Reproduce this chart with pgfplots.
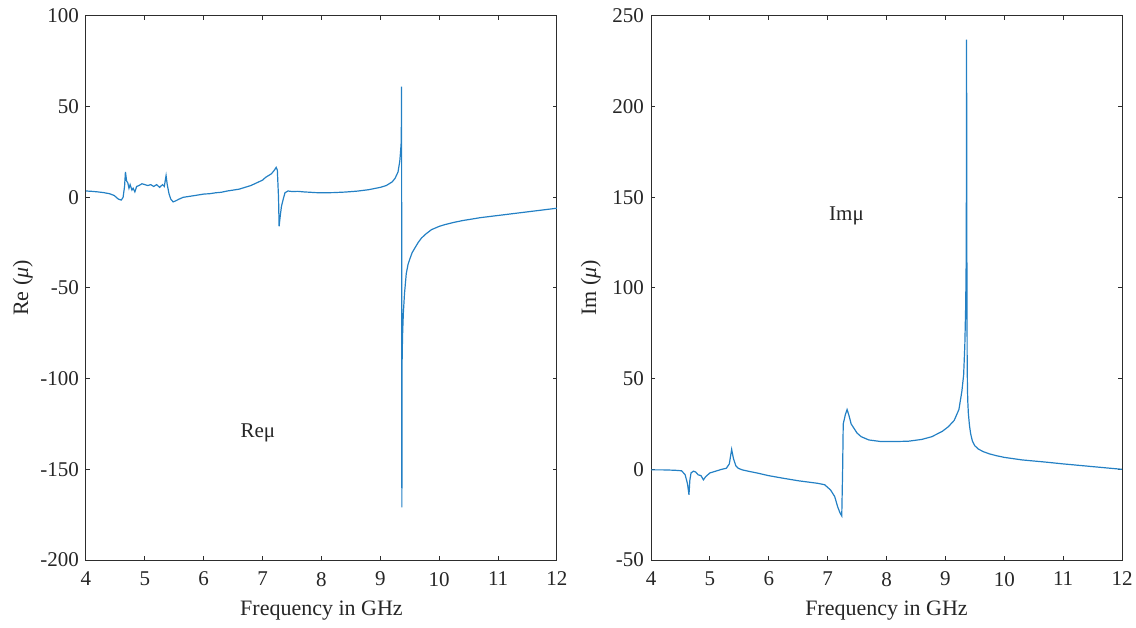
\documentclass[border=0pt]{standalone}
\usepackage{fontspec}
\setmainfont{Liberation Serif}
\usepackage{pgfplots}
\pgfplotsset{compat=1.18}
\definecolor{mblue}{RGB}{35,128,196}
\definecolor{axgray}{RGB}{45,45,45}

\begin{document}
\begin{tikzpicture}
\pgfplotsset{
  myax/.style={
    scale only axis, width=235.5pt, height=272pt,
    xmin=4, xmax=12, xtick={4,5,6,7,8,9,10,11,12},
    xticklabels={4,5,6,7,8,9,10,11,12},
    axis line style={axgray, line width=0.5pt},
    tick style={axgray, line width=0.5pt},
    major tick length=2pt,
    tick align=inside,
    tick label style={font=\fontsize{10.5}{12}\selectfont, text=black!85},
    xticklabel style={yshift=-2.5pt},
    label style={font=\fontsize{11}{13}\selectfont, text=black!85},
    xlabel={Frequency in GHz},
    xlabel style={yshift=-0.5pt},
    clip=true,
  },
  myline/.style={mblue, line width=0.6pt, no markers, sharp plot},
}
\begin{axis}[myax, at={(43pt,33.5pt)}, anchor=south west,
  ymin=-200, ymax=100, ytick={-200,-150,-100,-50,0,50,100},
  yticklabels={-200,-150,-100,-50,0,50,100},
  ylabel={Re (\textit{μ})}, ylabel style={yshift=-3pt}]
\addplot[myline] coordinates {
(4.00,3.5) (4.10,3.3) (4.20,3.0) (4.30,2.6) (4.40,2.0) (4.48,1.0) (4.55,-1.0) (4.60,-1.5)
(4.63,0) (4.655,6) (4.67,14) (4.69,9) (4.71,8) (4.73,5) (4.75,7) (4.78,4) (4.80,5) (4.83,3)
(4.86,6) (4.90,6.5) (4.95,7.5) (5.00,7) (5.05,6.5) (5.10,7) (5.15,6) (5.20,7) (5.25,5.5)
(5.30,7) (5.33,6) (5.36,12) (5.38,7) (5.41,2) (5.44,-1) (5.48,-2.5) (5.52,-2) (5.58,-1)
(5.65,0) (5.75,0.5) (5.85,1) (6.00,1.8) (6.10,2) (6.20,2.5) (6.30,2.8) (6.40,3.5) (6.50,4)
(6.60,4.5) (6.70,5.5) (6.80,6.5) (6.90,8) (7.00,9.5) (7.05,11) (7.10,12) (7.15,13) (7.20,15)
(7.23,16.5) (7.25,15) (7.27,0) (7.28,-16) (7.30,-10) (7.32,-5) (7.35,-1) (7.38,2.5) (7.43,3.5)
(7.50,3.2) (7.60,3.3) (7.70,3) (7.80,2.8) (7.90,2.6) (8.00,2.5) (8.20,2.6) (8.40,2.9)
(8.60,3.4) (8.80,4.2) (9.00,5.5) (9.10,6.5) (9.20,8.5) (9.25,10.5) (9.30,14) (9.33,20)
(9.345,26) (9.355,31) (9.36,61) (9.365,-171) (9.368,-120) (9.37,-87) (9.378,-75)
(9.39,-64) (9.41,-53) (9.44,-42) (9.47,-37) (9.50,-34) (9.54,-30.5) (9.585,-28)
(9.64,-25) (9.70,-22.4) (9.78,-20) (9.87,-17.8) (10.0,-16) (10.1,-15) (10.25,-13.8)
(10.4,-12.8) (10.55,-12) (10.7,-11.2) (11.0,-10) (11.3,-8.8) (11.6,-7.6) (12.0,-6)
};
\node[font=\fontsize{10.5}{12}\selectfont, text=black!85] at (axis cs:6.92,-130) {Reμ};
\end{axis}

\begin{axis}[myax, at={(325.5pt,33.5pt)}, anchor=south west,
  ymin=-50, ymax=250, ytick={-50,0,50,100,150,200,250},
  yticklabels={-50,0,50,100,150,200,250},
  ylabel={Im (\textit{μ})}, ylabel style={yshift=-1pt}]
\addplot[myline] coordinates {
(4.00,-0.3) (4.20,-0.3) (4.40,-0.5) (4.52,-0.8) (4.58,-3) (4.62,-8) (4.645,-14) (4.66,-6)
(4.68,-2) (4.72,-1) (4.76,-1.5) (4.80,-3) (4.85,-3.5) (4.89,-5.8) (4.93,-4) (5.00,-2)
(5.10,-1) (5.20,0) (5.28,0.6) (5.33,3) (5.37,11) (5.40,6) (5.44,2) (5.48,0.6) (5.55,-0.3)
(5.69,-1.3) (5.80,-2) (6.00,-3.5) (6.26,-5) (6.50,-6.3) (6.83,-7.7) (6.95,-8.5) (7.05,-11.4)
(7.12,-15) (7.17,-20.6) (7.21,-24) (7.24,-25.7) (7.255,0) (7.265,25) (7.30,30) (7.33,33)
(7.36,30) (7.40,25) (7.45,22.5) (7.50,20) (7.57,18) (7.70,16.2) (7.91,15.3) (8.10,15.3)
(8.37,15.5) (8.60,16.5) (8.77,18) (8.95,21) (9.05,23.5) (9.15,27) (9.23,33) (9.28,43)
(9.31,52) (9.33,68) (9.345,90) (9.355,120) (9.36,237) (9.365,120) (9.37,60) (9.375,45)
(9.38,38) (9.39,31) (9.41,24) (9.43,19.5) (9.46,15.5) (9.50,13) (9.56,11.2) (9.64,9.8)
(9.75,8.5) (9.87,7.5) (10.0,6.6) (10.3,5.2) (10.7,4) (11.0,3) (11.5,1.5) (12.0,0)
};
\node[font=\fontsize{10.5}{12}\selectfont, text=black!85] at (axis cs:7.32,140) {Imμ};
\end{axis}
\pgfresetboundingbox
\path[use as bounding box] (0,0) rectangle (568pt,313.5pt);
\end{tikzpicture}
\end{document}
